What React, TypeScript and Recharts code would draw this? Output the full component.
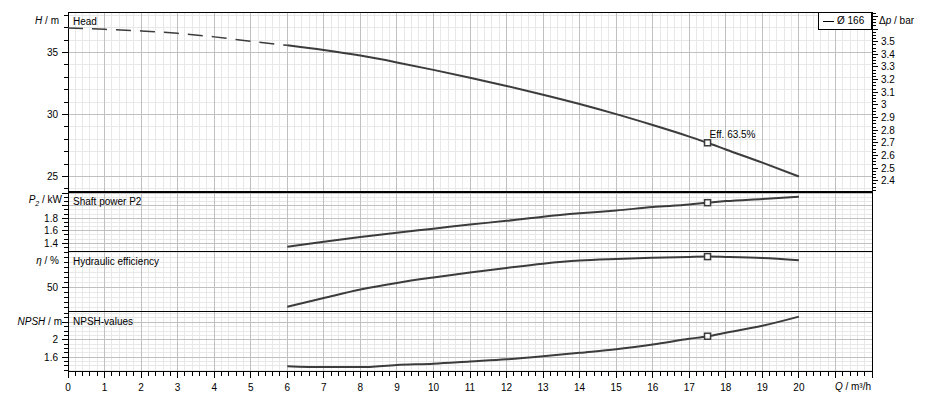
import React from "react";
import { LineChart, Line, XAxis, YAxis, CartesianGrid, ReferenceArea, ReferenceDot } from "recharts";

// flow rate Q in m³/h
const qPump = [6, 7, 8, 9, 10, 11, 12, 13, 14, 15, 16, 17, 17.5, 18, 19, 20];
const headH = [35.58, 35.2, 34.75, 34.2, 33.6, 32.97, 32.3, 31.6, 30.85, 30.03, 29.15, 28.22, 27.72, 27.18, 26.12, 25.0];
const powerP2 = [1.346, 1.426, 1.5, 1.57, 1.634, 1.7, 1.76, 1.826, 1.88, 1.925, 1.98, 2.02, 2.05, 2.075, 2.11, 2.146];
const effEta = [30.8, 39.5, 48.0, 54.6, 60.0, 65.0, 69.6, 73.8, 76.9, 78.5, 79.7, 80.6, 80.9, 80.6, 79.6, 77.3];
const npshR = [1.39, 1.37, 1.37, 1.42, 1.45, 1.5, 1.55, 1.62, 1.7, 1.78, 1.89, 2.02, 2.08, 2.16, 2.32, 2.53];

// extrapolated (dashed) part of the head curve
const qExtra = [0, 1, 2, 3, 4, 5, 6];
const headExtra = [36.98, 36.87, 36.74, 36.55, 36.26, 35.9, 35.58];

const dutyQ = 17.5;
const dutyLabel = "Eff. 63.5%";
const impeller = "Ø 166";

const xLabels = [0, 1, 2, 3, 4, 5, 6, 7, 8, 9, 10, 11, 12, 13, 14, 15, 16, 17, 18, 19, 20];
const headLabels = [25, 30, 35];
const dpLabels = [2.4, 2.5, 2.6, 2.7, 2.8, 2.9, 3, 3.1, 3.2, 3.3, 3.4, 3.5];
const powerLabels = [1.4, 1.6, 1.8];
const effLabels = [50];
const npshLabels = [1.6, 2];

const range = (from: number, to: number, step: number) => {
  const out: number[] = [];
  const n = Math.round((to - from) / step);
  for (let i = 0; i <= n; i++) out.push(Number((from + i * step).toFixed(4)));
  return out;
};
const has = (list: number[], v: number) => list.some((l) => Math.abs(l - v) < 1e-3);

const xTicks = range(0, 22, 0.2);
const xMajor = range(0, 22, 1);
const xMinor = xTicks.filter((v) => !has(xMajor, v));

const headTicks = range(24, 38, 1);
const headMajor = [25, 30, 35];
const dpTicks = range(2.325, 3.725, 0.025);
const dpMajor = range(2.4, 3.7, 0.1);
const powerTicks = range(1.4 - 0.2 / 3, 2.2, 0.2 / 3);
const powerMajor = [1.4, 1.6, 1.8, 2.0, 2.2];
const effTicks = range(30, 85, 5);
const effMajor = [50];
const npshTicks = range(1.3, 2.6, 0.1);
const npshMajor = [1.6, 2.0, 2.4];

const FONT = '"Liberation Sans", Arial, sans-serif';
const INK = "#3c3c3c";
const MINOR = "#e8e8e8";
const MAJOR = "#c0c0c0";
const W = 939;
const PLOT_LEFT = 68;
const PLOT_RIGHT = 872;
const AXIS_W = 60;
const PAD = 6;

const dutyIdx = qPump.indexOf(dutyQ);
const pumpData = qPump.map((q, i) => ({ q, h: headH[i], p: powerP2[i], eta: effEta[i], npsh: npshR[i] }));
const extraData = qExtra.map((q, i) => ({ q, h: headExtra[i] }));

const leftTick = (major: number[], labels: number[]) => (props: any) => {
  const { x, y, payload } = props;
  const v = payload.value;
  const len = has(major, v) ? 6 : 4;
  return (
    <g>
      <line x1={x - len} x2={x} y1={y} y2={y} stroke="#000" shapeRendering="crispEdges" />
      {has(labels, v) && (
        <text x={x - 10} y={y} dy="0.35em" textAnchor="end" fontSize={10} fontFamily={FONT} fill="#000">
          {String(v)}
        </text>
      )}
    </g>
  );
};

const rightTick = (props: any) => {
  const { x, y, payload } = props;
  const v = payload.value;
  const len = has(dpMajor, v) ? 6 : 4;
  return (
    <g>
      <line x1={x} x2={x + len} y1={y} y2={y} stroke="#000" shapeRendering="crispEdges" />
      {has(dpLabels, v) && (
        <text x={x + 9} y={y} dy="0.35em" textAnchor="start" fontSize={10} fontFamily={FONT} fill="#000">
          {String(v)}
        </text>
      )}
    </g>
  );
};

const bottomTick = (props: any) => {
  const { x, y, payload } = props;
  const v = payload.value;
  const len = has(xMajor, v) ? 7 : 5;
  return (
    <g>
      <line x1={x} x2={x} y1={y} y2={y + len} stroke="#000" shapeRendering="crispEdges" />
      {has(xLabels, v) && (
        <text x={x} y={y + 16} dy="0.35em" textAnchor="middle" fontSize={10} fontFamily={FONT} fill="#000">
          {String(Math.round(v))}
        </text>
      )}
    </g>
  );
};

const marker = (text?: string) => (props: any) => {
  const { cx, cy } = props;
  return (
    <g>
      <rect x={cx - 3} y={cy - 3} width={6} height={6} fill="#fff" stroke={INK} strokeWidth={1.5} />
      {text && (
        <text x={cx + 2} y={cy - 8} dy="0.35em" fontSize={10} fontFamily={FONT} fill="#000">
          {text}
        </text>
      )}
    </g>
  );
};

interface PanelProps {
  top: number;
  bottom: number;
  domain: [number, number];
  ticks: number[];
  major: number[];
  labels: number[];
  xAxis?: boolean;
  right?: boolean;
  children?: React.ReactNode;
}

function Panel({ top, bottom, domain, ticks, major, labels, xAxis = false, right = false, children }: PanelProps) {
  const xH = 30;
  const height = PAD + (bottom - top) + (xAxis ? xH : PAD);
  const minorY = ticks.filter((v) => !has(major, v));
  return (
    <div style={{ position: "absolute", left: 0, top: top - PAD }}>
      <LineChart
        width={W}
        height={height}
        margin={{
          top: PAD,
          bottom: xAxis ? 0 : PAD,
          left: PLOT_LEFT - AXIS_W,
          right: right ? W - PLOT_RIGHT - AXIS_W : W - PLOT_RIGHT,
        }}
      >
        <CartesianGrid horizontalValues={minorY} verticalValues={xMinor} stroke={MINOR} shapeRendering="crispEdges" />
        <CartesianGrid horizontalValues={major} verticalValues={xMajor} stroke={MAJOR} shapeRendering="crispEdges" />
        <XAxis
          type="number"
          dataKey="q"
          domain={[0, 22]}
          allowDataOverflow
          ticks={xTicks}
          interval={0}
          hide={!xAxis}
          height={xH}
          tickSize={0}
          tickMargin={0}
          axisLine={false}
          tickLine={false}
          tick={bottomTick}
        />
        <YAxis
          type="number"
          domain={domain}
          allowDataOverflow
          ticks={ticks}
          interval={0}
          width={AXIS_W}
          tickSize={0}
          tickMargin={0}
          axisLine={false}
          tickLine={false}
          tick={leftTick(major, labels)}
        />
        {right && (
          <YAxis
            yAxisId="dp"
            orientation="right"
            type="number"
            domain={[2.319, 3.735]}
            allowDataOverflow
            ticks={dpTicks}
            interval={0}
            width={AXIS_W}
            tickSize={0}
            tickMargin={0}
            axisLine={false}
            tickLine={false}
            tick={rightTick}
          />
        )}
        <ReferenceArea
          x1={0}
          x2={22}
          y1={domain[0]}
          y2={domain[1]}
          fill="none"
          stroke="#000"
          strokeWidth={1}
          shapeRendering="crispEdges"
        />
        {children}
      </LineChart>
    </div>
  );
}

const Txt = ({ x, y, anchor = "left", children }: { x: number; y: number; anchor?: "left" | "right"; children: React.ReactNode }) => (
  <div
    style={{
      position: "absolute",
      top: y - 6,
      ...(anchor === "left" ? { left: x } : { right: W - x }),
      fontSize: 10,
      lineHeight: "12px",
      fontFamily: FONT,
      whiteSpace: "nowrap",
      color: "#000",
    }}
  >
    {children}
  </div>
);

const it = { fontStyle: "italic" } as const;

export default function App() {
  return (
    <div style={{ position: "absolute", left: 0, top: 0, width: W, height: 401, background: "#fff", overflow: "hidden" }}>
      <Panel top={12} bottom={191} domain={[23.831, 38.266]} ticks={headTicks} major={headMajor} labels={headLabels} right>
        <Line data={extraData} dataKey="h" type="monotone" stroke={INK} strokeWidth={1.5} strokeDasharray="15 9" dot={false} isAnimationActive={false} />
        <Line data={pumpData} dataKey="h" type="monotone" stroke={INK} strokeWidth={2} dot={false} isAnimationActive={false} />
        <ReferenceDot x={dutyQ} y={headH[dutyIdx]} r={3} shape={marker(dutyLabel)} />
      </Panel>
      <Panel top={192} bottom={251} domain={[1.2768, 2.2208]} ticks={powerTicks} major={powerMajor} labels={powerLabels}>
        <Line data={pumpData} dataKey="p" type="monotone" stroke={INK} strokeWidth={2} dot={false} isAnimationActive={false} />
        <ReferenceDot x={dutyQ} y={powerP2[dutyIdx]} r={3} shape={marker()} />
      </Panel>
      <Panel top={251} bottom={311} domain={[26.5, 86.5]} ticks={effTicks} major={effMajor} labels={effLabels}>
        <Line data={pumpData} dataKey="eta" type="monotone" stroke={INK} strokeWidth={2} dot={false} isAnimationActive={false} />
        <ReferenceDot x={dutyQ} y={effEta[dutyIdx]} r={3} shape={marker()} />
      </Panel>
      <Panel top={311} bottom={371} domain={[1.2805, 2.66]} ticks={npshTicks} major={npshMajor} labels={npshLabels} xAxis>
        <Line data={pumpData} dataKey="npsh" type="monotone" stroke={INK} strokeWidth={2} dot={false} isAnimationActive={false} />
        <ReferenceDot x={dutyQ} y={npshR[dutyIdx]} r={3} shape={marker()} />
      </Panel>

      <Txt x={59} y={21} anchor="right"><span style={it}>H</span> / m</Txt>
      <Txt x={73} y={21.5}>Head</Txt>
      <Txt x={879} y={21}>Δ<span style={it}>p</span> / bar</Txt>
      <div
        style={{
          position: "absolute",
          left: 818,
          top: 12,
          width: 52,
          height: 16,
          border: "1px solid #000",
          background: "#fff",
          fontFamily: FONT,
          fontSize: 10,
          lineHeight: "16px",
          whiteSpace: "nowrap",
        }}
      >
        <span style={{ position: "absolute", left: 4, top: 8, width: 11, borderTop: "1px solid #000" }} />
        <span style={{ position: "absolute", left: 18 }}>{impeller}</span>
      </div>

      <Txt x={62} y={200} anchor="right"><span style={it}>P<sub style={{ fontSize: 7 }}>2</sub></span> / kW</Txt>
      <Txt x={73} y={201.5}>Shaft power P2</Txt>
      <Txt x={59} y={261} anchor="right"><span style={it}>η</span> / %</Txt>
      <Txt x={73} y={261.7}>Hydraulic efficiency</Txt>
      <Txt x={62} y={321.7} anchor="right"><span style={it}>NPSH</span> / m</Txt>
      <Txt x={73} y={321.7}>NPSH-values</Txt>
      <Txt x={871} y={386.7} anchor="right"><span style={it}>Q</span> / m³/h</Txt>
    </div>
  );
}
